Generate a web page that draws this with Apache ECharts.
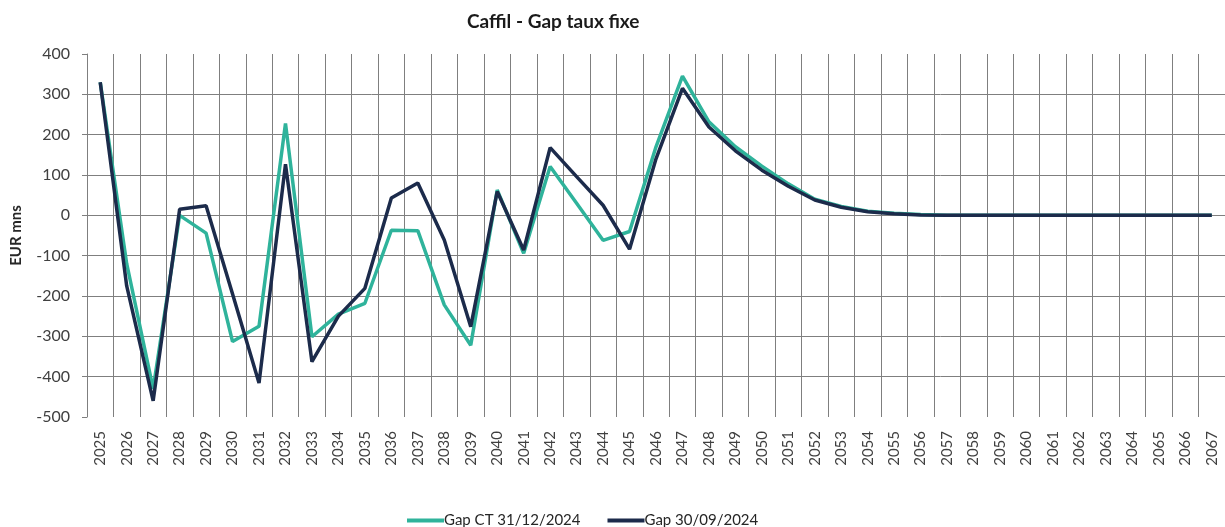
<!DOCTYPE html>
<html>
<head>
<meta charset="utf-8">
<script src="https://cdn.jsdelivr.net/npm/echarts@6/dist/echarts.min.js"></script>
<style>
html,body{margin:0;padding:0;background:#fff;}
#chart{width:1225px;height:527px;}
</style>
</head>
<body>
<div id="chart"></div>
<script>
const years = ['2025','2026','2027','2028','2029','2030','2031','2032','2033','2034','2035','2036','2037','2038','2039','2040','2041','2042','2043','2044','2045','2046','2047','2048','2049','2050','2051','2052','2053','2054','2055','2056','2057','2058','2059','2060','2061','2062','2063','2064','2065','2066','2067'];
const gapCT = [330,-120,-430,0,-44,-313,-275,228,-301,-245,-218,-37,-38,-222,-322,63,-94,121,30,-62,-40,170,345,232,170,122,78,40,22,10,5,2,0,0,0,0,0,0,0,0,0,0,0];
const gap0930 = [330,-175,-460,15,24,-195,-416,127,-363,-250,-181,43,80,-61,-276,59,-86,168,96,25,-84,140,315,219,160,112,72,38,20,9,4,1,0,0,0,0,0,0,0,0,0,0,0];
const seriesNames = ['Gap CT 31/12/2024','Gap 30/09/2024'];
const yTicks = {min:-500, max:400, interval:100};

const FONT = 'Lato, "Open Sans", sans-serif';
const grid = '#7f7f7f';
const chart = echarts.init(document.getElementById('chart'), null, {renderer:'canvas'});
const nTicks = (yTicks.max - yTicks.min) / yTicks.interval;
const hColors = [];
for (let i = 0; i <= nTicks; i++) {
  hColors.push(i === 0 || i === nTicks ? 'rgba(0,0,0,0)' : grid);
}
chart.setOption({
  animation:false,
  backgroundColor:'#fff',
  title:{
    text:'Caffil - Gap taux fixe',
    left:462, top:7,
    textStyle:{fontFamily:FONT, fontSize:19, fontWeight:'bold', color:'#1a1a1a'}
  },
  legend:{
    left:402, top:508,
    icon:'rect', itemWidth:37, itemHeight:4, itemGap:27,
    textStyle:{fontFamily:FONT, fontSize:15, color:'#262626', padding:[0,0,0,-5]},
    data:seriesNames
  },
  grid:{left:87, top:54, width:1140, bottom:110, containLabel:false},
  xAxis:{
    type:'category',
    data:years,
    boundaryGap:true,
    axisLine:{show:false},
    axisTick:{show:false},
    axisLabel:{rotate:90, fontFamily:FONT, fontSize:15, color:'#404040', margin:14},
    splitLine:{show:true, lineStyle:{color:grid, width:1}}
  },
  yAxis:{
    type:'value',
    min:yTicks.min, max:yTicks.max, interval:yTicks.interval,
    name:'EUR mns', nameLocation:'middle', nameRotate:90, nameGap:63,
    nameTextStyle:{fontFamily:FONT, fontSize:15, fontWeight:'bold', color:'#262626'},
    axisLine:{show:true, lineStyle:{color:grid, width:1}},
    axisTick:{show:true, length:5, lineStyle:{color:grid}},
    axisLabel:{fontFamily:FONT, fontSize:16, color:'#404040', margin:17},
    splitLine:{show:true, lineStyle:{color:hColors, width:1}}
  },
  series:[
    {name:seriesNames[0], type:'line', data:gapCT, symbol:'none', lineStyle:{width:3.5, color:'#2fb39b'}, itemStyle:{color:'#2fb39b'}, z:2},
    {name:seriesNames[1], type:'line', data:gap0930, symbol:'none', lineStyle:{width:3.5, color:'#1c2b4b'}, itemStyle:{color:'#1c2b4b'}, z:3}
  ]
});
</script>
</body>
</html>
